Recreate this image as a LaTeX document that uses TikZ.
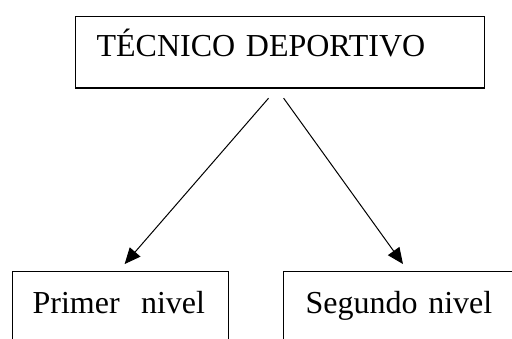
\documentclass[tikz,border=0pt]{standalone}
\usepackage{fontspec}
\setmainfont{Liberation Serif}
\usetikzlibrary{arrows.meta}
\begin{document}
\begin{tikzpicture}[line width=1.2pt, caja/.style={draw,anchor=north west,align=left,inner ysep=0pt,font=\fontsize{32}{38}\selectfont}, flecha/.style={line width=1pt,-{Triangle[length=16pt,width=14pt]}}]
\useasboundingbox (0,0) rectangle (512pt,338pt);
\node [caja,minimum width=409pt,inner xsep=21pt,text width=367pt,text height=40pt,text depth=31.5pt](tecnico) at (75pt,322pt) {TÉCNICO DEPORTIVO};
\node [caja,minimum width=216pt,inner xsep=20pt,text width=176pt,text height=42pt,text depth=60pt](primer) at (12pt,67pt) {Primer~ nivel};
\node [caja,minimum width=260pt,inner xsep=22pt,text width=216pt,text height=42pt,text depth=60pt](segundo) at (283pt,67pt) {Segundo nivel};
\coordinate (origen) at ([xshift=-3.3pt]tecnico.south);
\draw [flecha,shorten <=12.5pt,shorten >=9.2pt] (origen) -- ([xshift=-2pt]primer.north);
\draw [flecha,shorten <=11.7pt,shorten >=8.6pt] (origen) -- ([xshift=125pt]segundo.north west);
\end{tikzpicture}
\end{document}
